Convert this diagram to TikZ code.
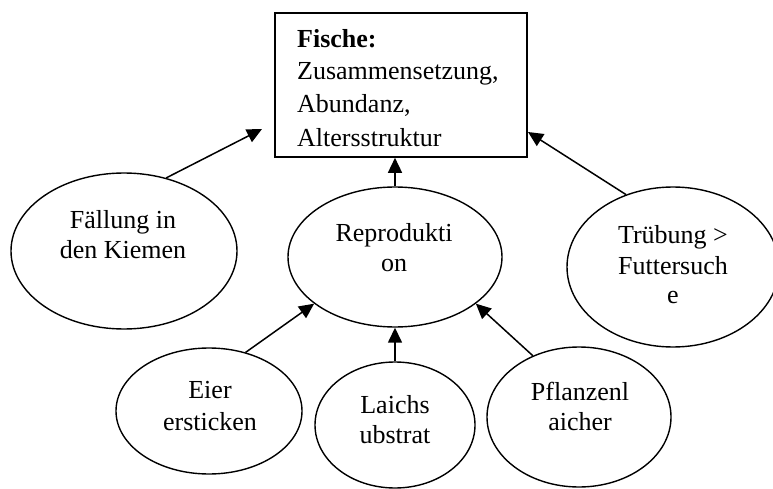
\documentclass[tikz,border=0pt]{standalone}
\usepackage{fontspec}
\setmainfont{Liberation Serif}
\usetikzlibrary{shapes.geometric,arrows.meta}
\tikzset{
  bub/.style={draw, ellipse, line width=1.4pt, inner sep=0pt},
  lbl/.style={anchor=base, inner sep=0pt, font=\fontsize{26}{30}\selectfont},
  blbl/.style={anchor=base west, inner sep=0pt, font=\fontsize{26}{30}\selectfont},
  arr/.style={line width=1.5pt, -{Triangle[length=15pt,width=14pt]}}
}
\begin{document}
\begin{tikzpicture}[x=1pt,y=-1pt]
\useasboundingbox (0,0) rectangle (773,489);
\clip (0,0) rectangle (773,489);
% box
\node[draw, line width=1.6pt, minimum width=252pt, minimum height=144pt, inner sep=0pt] (box) at (401,85) {};
\node[blbl] (t1) at (297,48) {\bfseries Fische:};
\node[blbl] (t2) at (297,80) {Zusammensetzung,};
\node[blbl] (t3) at (297,113) {Abundanz,};
\node[blbl] (t4) at (297,147) {Altersstruktur};
% ellipses
\node[bub, minimum width=226pt, minimum height=156pt] (fall) at (124,251) {};
\node[bub, minimum width=214pt, minimum height=140pt] (repro) at (395,257) {};
\node[bub, minimum width=212pt, minimum height=160pt] (trueb) at (673,267) {};
\node[bub, minimum width=186pt, minimum height=126pt] (eier) at (209,411) {};
\node[bub, minimum width=160pt, minimum height=126pt] (laich) at (395,425) {};
\node[bub, minimum width=184pt, minimum height=140pt] (pflanz) at (579,417) {};
% texts
\node[lbl] (f1) at (123,228) {Fällung in};
\node[lbl] (f2) at (123,258) {den Kiemen};
\node[lbl] (r1) at (394,241) {Reprodukti};
\node[lbl] (r2) at (394,271) {on};
\node[lbl] (u1) at (673,243) {Trübung >};
\node[lbl] (u2) at (673,274) {Futtersuch};
\node[lbl] (u3) at (673,303) {e};
\node[lbl] (e1) at (210,398) {Eier};
\node[lbl] (e2) at (210,430) {ersticken};
\node[lbl] (l1) at (395,413) {Laichs};
\node[lbl] (l2) at (395,443) {ubstrat};
\node[lbl] (p1) at (580,400) {Pflanzenl};
\node[lbl] (p2) at (580,430) {aicher};
% arrow end points
\coordinate (ftip) at (262,129);
\coordinate (ttip) at (528,132);
% connectors
\draw[arr] (fall.60) -- (ftip);
\draw[arr] (trueb.123) -- (ttip);
\draw[arr] (repro.north) -- (repro.north |- box.south);
\draw[arr] (eier.58) -- (repro.210);
\draw[arr] (laich.north) -- (repro.south);
\draw[arr] (pflanz.127) -- (repro.-30);
\end{tikzpicture}
\end{document}
